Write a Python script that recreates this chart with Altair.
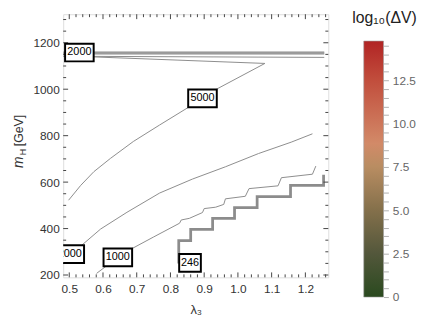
import altair as alt
import pandas as pd

# ---------------- data ----------------
X_DOMAIN = [0.482, 1.268]
Y_DOMAIN = [190, 1323]

# contour "5000" (goes up, then turns back to the left)
c5000_x = [0.498, 0.534, 0.573, 0.622, 0.690, 0.768, 0.851, 0.939, 1.080, 0.573, 0.482]
c5000_y = [522, 586, 645, 702, 775, 846, 920, 1002, 1111, 1139, 1142]

# contour "2000" (lower one, label clipped at the left edge)
c2000_x = [0.502, 0.536, 0.593, 0.671, 0.768, 0.865, 0.963, 1.061, 1.158, 1.221]
c2000_y = [290, 327, 398, 470, 553, 613, 666, 723, 772, 808]

# contour "1000"
c1000_x = [0.581, 0.644, 0.685, 0.749, 0.827, 0.832, 0.856, 0.895, 0.900, 0.934,
           0.958, 0.963, 1.022, 1.033, 1.119, 1.129, 1.221, 1.231]
c1000_y = [207, 276, 313, 363, 423, 437, 444, 469, 486, 492,
           504, 528, 539, 572, 584, 619, 634, 669]

# bunched contours near the top
band_x = [0.482, 1.256]
band_levels = [1160, 1156, 1152]
thin_top_x = [0.482, 1.256]
thin_top_y = [1142, 1137]

# contour "246" (step shaped)
step_x = [0.8246, 0.860, 0.925, 0.990, 1.057, 1.156, 1.254, 1.254]
step_y = [250, 348, 397, 444, 490, 538, 586, 632]

# contour labels
label_text = ["2000", "5000", "2000", "1000", "246"]
label_x = [0.530, 0.895, 0.5015, 0.644, 0.858]
label_y = [1158, 961, 290, 276, 252]

# colour bar
cb_range = [0, 14.77]
cb_top_domain = 16.32
cb_ticks = [k * 0.5 for k in range(0, 30)]

x_major = [0.5, 0.6, 0.7, 0.8, 0.9, 1.0, 1.1, 1.2]
y_major = [200, 400, 600, 800, 1000, 1200]
x_minor = [round(0.5 + 0.02 * k, 2) for k in range(0, 39)]
x_minor = [v for v in x_minor if round(v * 10, 6) != round(v * 10)]
y_minor = [v for v in range(200, 1301, 50) if v % 200 != 0]

# ---------------- layout constants ----------------
W, H = 269, 267
FONT = "Liberation Sans"
GRAY = "#8c8c8c"
FRAME = "#444444"

px_per_x = W / (X_DOMAIN[1] - X_DOMAIN[0])
px_per_y = H / (Y_DOMAIN[1] - Y_DOMAIN[0])

xs = alt.Scale(domain=X_DOMAIN, nice=False, zero=False)
ys = alt.Scale(domain=Y_DOMAIN, nice=False, zero=False)
xaxis = alt.Axis(values=x_major, format=".1f", ticks=False, domain=False, grid=False,
                 labelFontSize=12, labelColor="#333", labelPadding=6, labelFont=FONT,
                 titleFontSize=13, titleFontWeight="normal", titleColor="#333",
                 titlePadding=10, titleFont=FONT)
yaxis = alt.Axis(values=y_major, format="d", ticks=False, domain=False, grid=False,
                 labelFontSize=12, labelColor="#333", labelPadding=4, labelFont=FONT)


def X(f):
    return alt.X(f, type="quantitative", scale=xs, axis=xaxis, title="λ₃")


def Y(f):
    return alt.Y(f, type="quantitative", scale=ys, axis=yaxis, title="")


# ---------------- tables ----------------
rows = []
for name, xx, yy in [("c5000", c5000_x, c5000_y), ("c2000", c2000_x, c2000_y),
                     ("c1000", c1000_x, c1000_y), ("thin", thin_top_x, thin_top_y)]:
    for i, (a, b) in enumerate(zip(xx, yy)):
        rows.append({"id": name, "i": i, "x": a, "y": b})
lines_df = pd.DataFrame(rows)

band_rows = []
for k, lv in enumerate(band_levels):
    for i, a in enumerate(band_x):
        band_rows.append({"id": f"b{k}", "i": i, "x": a, "y": lv})
band_df = pd.DataFrame(band_rows)

step_df = pd.DataFrame({"i": list(range(len(step_x))), "x": step_x, "y": step_y})

lab = pd.DataFrame({"t": label_text, "x": label_x, "y": label_y})
half_w_px = lab["t"].str.len().map({3: 11.0, 4: 14.5})
lab["x_lo"] = lab["x"] - half_w_px / px_per_x
lab["x_hi"] = lab["x"] + half_w_px / px_per_x
lab["y_lo"] = lab["y"] - 9.0 / px_per_y
lab["y_hi"] = lab["y"] + 9.0 / px_per_y

# ---------------- main panel ----------------
lines = alt.Chart(lines_df).mark_line(color=GRAY, strokeWidth=1, clip=True).encode(
    x=X("x"), y=Y("y"), detail="id:N", order="i:Q")
band = alt.Chart(band_df).mark_line(color=GRAY, strokeWidth=1.2, clip=True).encode(
    x=X("x"), y=Y("y"), detail="id:N", order="i:Q")
step = alt.Chart(step_df).mark_line(color=GRAY, strokeWidth=2.8, interpolate="step-before",
                                    clip=True).encode(x=X("x"), y=Y("y"), order="i:Q")
boxes = alt.Chart(lab).mark_rect(fill="white", stroke="black", strokeWidth=2, clip=True).encode(
    x=X("x_lo"), x2="x_hi:Q", y=Y("y_lo"), y2="y_hi:Q")
texts = alt.Chart(lab).mark_text(font=FONT, fontSize=11, color="black", clip=True).encode(
    x=X("x"), y=Y("y"), text="t:N")


def tick_layers(vals, length, axis):
    d = pd.DataFrame({"v": vals})
    base = alt.Chart(d).mark_rule(color=FRAME, strokeWidth=1)
    if axis == "x":
        return [base.encode(x=X("v"), y=alt.value(H), y2=alt.value(H - length)),
                base.encode(x=X("v"), y=alt.value(0), y2=alt.value(length))]
    return [base.encode(y=Y("v"), x=alt.value(0), x2=alt.value(length)),
            base.encode(y=Y("v"), x=alt.value(W), x2=alt.value(W - length))]


ticks = (tick_layers(x_major, 5, "x") + tick_layers(x_minor, 3, "x")
         + tick_layers(y_major, 5, "y") + tick_layers(y_minor, 3, "y"))

t_m = alt.Chart(pd.DataFrame({"t": ["m"]})).mark_text(
    font=FONT, fontSize=14, fontStyle="italic", angle=270, align="left",
    baseline="alphabetic", color="#333").encode(
    text="t:N", x=alt.value(-41), y=alt.value(156))
t_h = alt.Chart(pd.DataFrame({"t": ["H"]})).mark_text(
    font=FONT, fontSize=9, angle=270, align="left",
    baseline="alphabetic", color="#333").encode(
    text="t:N", x=alt.value(-38), y=alt.value(143))
t_gev = alt.Chart(pd.DataFrame({"t": ["[GeV]"]})).mark_text(
    font=FONT, fontSize=12.5, angle=270, align="left",
    baseline="alphabetic", color="#333").encode(
    text="t:N", x=alt.value(-41), y=alt.value(134))

main = alt.layer(lines, band, step, *ticks, boxes, texts, t_m, t_h, t_gev).properties(
    width=W, height=H)

# ---------------- colour bar panel ----------------
grad = alt.Gradient(
    gradient="linear", x1=0, x2=0, y1=1, y2=0,
    stops=[alt.GradientStop(offset=0.0, color="#2a4a1f"),
           alt.GradientStop(offset=0.17, color="#53573b"),
           alt.GradientStop(offset=0.34, color="#84704b"),
           alt.GradientStop(offset=0.51, color="#b98d62"),
           alt.GradientStop(offset=0.60, color="#d28a68"),
           alt.GradientStop(offset=0.68, color="#cd765a"),
           alt.GradientStop(offset=0.85, color="#c14d3c"),
           alt.GradientStop(offset=1.0, color="#b12424")])

cb_df = pd.DataFrame({"lo": [cb_range[0]], "hi": [cb_range[1]]})
cb_axis = alt.Axis(orient="right", values=cb_ticks, domain=False, grid=False,
                   tickSize=5, tickColor="#b0b0b0", tickWidth=1,
                   labelExpr="datum.value == 0 ? '0' : (datum.value % 2.5 == 0 ? format(datum.value, '.1f') : '')",
                   labelOverlap=False, labelFontSize=12, labelColor="#666",
                   labelFont=FONT, labelPadding=4, title="")
bar = alt.Chart(cb_df).mark_rect(fill=grad, stroke="#9a9a9a", strokeWidth=0.6).encode(
    y=alt.Y("lo:Q", scale=alt.Scale(domain=[0, cb_top_domain], nice=False, zero=False),
            axis=cb_axis),
    y2="hi:Q", x=alt.value(0), x2=alt.value(20))
cb_title = alt.Chart(pd.DataFrame({"t": ["log₁₀(ΔV)"]})).mark_text(
    font=FONT, fontSize=16, color="#222", baseline="middle", align="center").encode(
    text="t:N", x=alt.value(21), y=alt.value(4))

cbar = alt.layer(bar, cb_title).properties(
    width=20, height=287, view=alt.ViewBackground(strokeOpacity=0))

chart = alt.hconcat(main, cbar, spacing=36, bounds="flush").properties(
    padding={"left": 3, "top": 0, "right": 0, "bottom": 0}
).configure_view(stroke=FRAME, strokeWidth=1.2).configure(font=FONT)

chart.save("out.html", embed_options={"renderer": "svg", "actions": False})
